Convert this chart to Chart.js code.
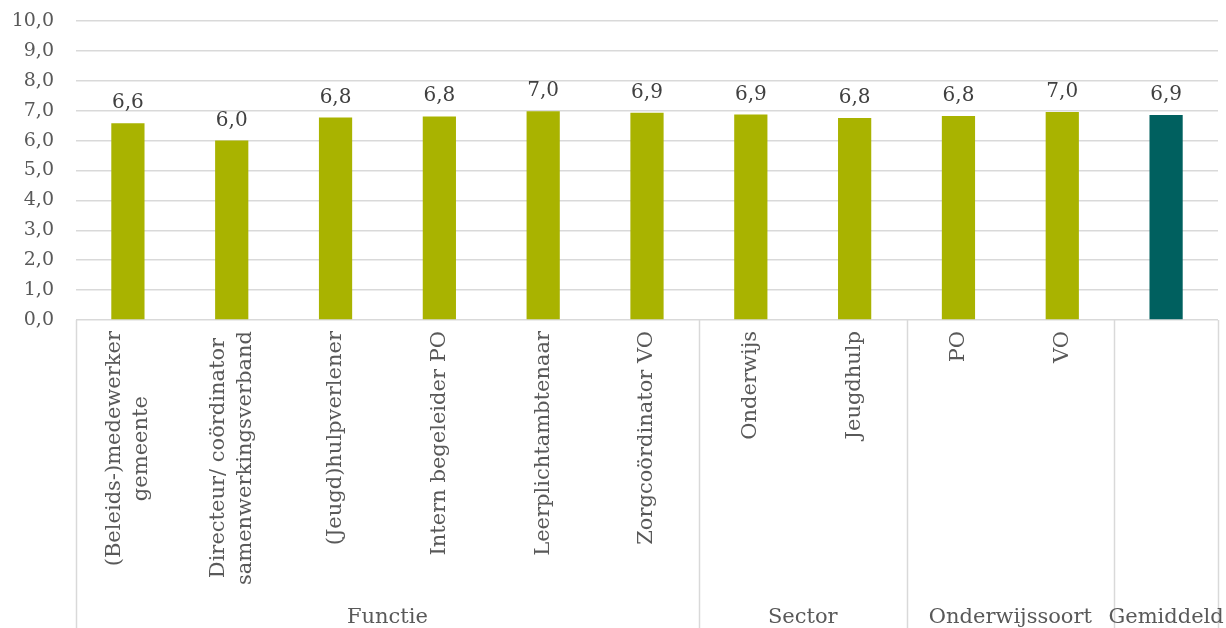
<!DOCTYPE html>
<html>
<head>
<meta charset="utf-8">
<script src="https://cdn.jsdelivr.net/npm/chart.js@4"></script>
<style>
  html, body { margin: 0; padding: 0; background: #fff; }
  #wrap { width: 1226px; height: 628px; }
</style>
</head>
<body>
<div id="wrap"><canvas id="scoreChart"></canvas></div>
<script>
// categories (multi-line labels as arrays)
const categories = [
    ['(Beleids-)medewerker', 'gemeente'],
    ['Directeur/ coördinator', 'samenwerkingsverband'],
    ['(Jeugd)hulpverlener'],
    ['Intern begeleider PO'],
    ['Leerplichtambtenaar'],
    ['Zorgcoördinator VO'],
    ['Onderwijs'],
    ['Jeugdhulp'],
    ['PO'],
    ['VO'],
    ['']
];
const scores = [6.58, 6.0, 6.77, 6.81, 6.98, 6.93, 6.87, 6.76, 6.82, 6.96, 6.86];
const groups = ['Functie', 'Sector', 'Onderwijssoort', 'Gemiddeld'];
const groupSizes = [6, 2, 2, 1];
const yTicks = [0, 1, 2, 3, 4, 5, 6, 7, 8, 9, 10];

const GREEN = '#A9B300';
const TEAL = '#00605F';
const barColors = scores.map((v, i) => i === scores.length - 1 ? TEAL : GREEN);
const FONT = '"DejaVu Serif", Georgia, serif';
const comma = v => v.toFixed(1).replace('.', ',');

// value labels, category labels, group labels and the table lines below the axis
const axisTable = {
    id: 'axisTable',
    afterDatasetsDraw(chart) {
        const ctx = chart.ctx;
        const area = chart.chartArea;
        const x = chart.scales.x;
        const step = (area.right - area.left) / categories.length;

        // data labels
        ctx.save();
        ctx.fillStyle = '#404040';
        ctx.font = '20px ' + FONT;
        ctx.textAlign = 'center';
        ctx.textBaseline = 'alphabetic';
        chart.getDatasetMeta(0).data.forEach((bar, i) => {
            ctx.fillText(comma(scores[i]), bar.x, bar.y - 15);
        });
        ctx.restore();

        // vertical table lines
        ctx.save();
        ctx.strokeStyle = '#D9D9D9';
        ctx.lineWidth = 1.5;
        let idx = 0;
        const bounds = [0];
        groupSizes.forEach(n => { idx += n; bounds.push(idx); });
        bounds.forEach(b => {
            const px = Math.round(area.left + b * step) + 0.5;
            ctx.beginPath();
            ctx.moveTo(px, area.bottom);
            ctx.lineTo(px, chart.height);
            ctx.stroke();
        });
        ctx.restore();

        // rotated category labels
        ctx.save();
        ctx.fillStyle = '#595959';
        ctx.font = '21px ' + FONT;
        ctx.textAlign = 'center';
        ctx.textBaseline = 'middle';
        const lineH = 27;
        const top = area.bottom + 11;
        categories.forEach((lines, i) => {
            const cx = x.getPixelForValue(i);
            const w = Math.max(...lines.map(l => ctx.measureText(l).width));
            ctx.save();
            ctx.translate(cx, top);
            ctx.rotate(-Math.PI / 2);
            lines.forEach((l, j) => {
                ctx.fillText(l, -w / 2, (j - (lines.length - 1) / 2) * lineH);
            });
            ctx.restore();
        });
        ctx.restore();

        // group labels
        ctx.save();
        ctx.fillStyle = '#595959';
        ctx.font = '21px ' + FONT;
        ctx.textAlign = 'center';
        ctx.textBaseline = 'alphabetic';
        let start = 0;
        groups.forEach((g, k) => {
            const mid = area.left + (start + groupSizes[k] / 2) * step;
            ctx.fillText(g, mid, 623);
            start += groupSizes[k];
        });
        ctx.restore();
    }
};

new Chart(document.getElementById('scoreChart'), {
    type: 'bar',
    data: {
        labels: categories.map(c => c.join(' ')),
        datasets: [{
            data: scores,
            backgroundColor: barColors,
            borderWidth: 0,
            barPercentage: 0.32,
            categoryPercentage: 1
        }]
    },
    options: {
        responsive: true,
        maintainAspectRatio: false,
        animation: false,
        layout: {
            padding: { top: 21, right: 8, bottom: 300, left: 0 }
        },
        plugins: {
            legend: { display: false },
            tooltip: { enabled: false }
        },
        scales: {
            x: {
                grid: { display: false },
                border: { display: false },
                ticks: { display: false }
            },
            y: {
                min: 0,
                max: 10,
                afterBuildTicks(scale) {
                    scale.ticks = yTicks.map(v => ({ value: v }));
                },
                afterFit(scale) {
                    scale.width = 76;
                    scale.paddingTop = 0;
                    scale.paddingBottom = 0;
                },
                grid: {
                    color: '#D9D9D9',
                    lineWidth: 1.5,
                    drawTicks: false
                },
                border: { display: false },
                ticks: {
                    padding: 22,
                    color: '#595959',
                    font: { family: FONT, size: 19 },
                    callback: v => comma(v)
                }
            }
        }
    },
    plugins: [axisTable]
});
</script>
</body>
</html>
